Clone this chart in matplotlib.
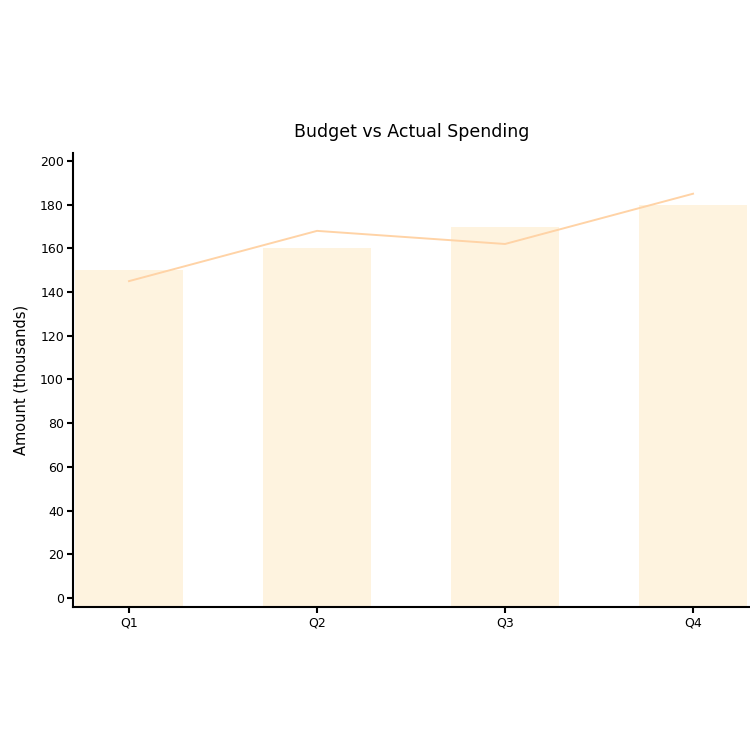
import matplotlib
matplotlib.use('Agg')
import matplotlib.pyplot as plt

quarters = ['Q1', 'Q2', 'Q3', 'Q4']
budget = [150, 160, 170, 180]
actual = [145, 168, 162, 185]
yticks = [0, 20, 40, 60, 80, 100, 120, 140, 160, 180, 200]

plt.rcParams['font.family'] = ['DejaVu Sans']

fig = plt.figure(figsize=(7.5, 7.5), dpi=100)
ax = fig.add_axes([0.0973, 0.1907, 0.9027, 0.6049])

ymin, ymax = -4.12, 203.5
x = range(len(quarters))
ax.bar(x, [b - ymin for b in budget], bottom=ymin, width=0.57,
       color='#fef3df', zorder=1)
ax.plot(x, actual, color='#ffd3a6', linewidth=1.4, zorder=2)

ax.set_xlim(-0.298, 3.303)
ax.set_ylim(ymin, ymax)
ax.set_xticks(list(x))
ax.set_xticklabels(quarters)
ax.set_yticks(yticks)

for s in ['top', 'right']:
    ax.spines[s].set_visible(False)
for s in ['left', 'bottom']:
    ax.spines[s].set_linewidth(1.5)
ax.tick_params(direction='out', length=4.5, width=1.5, labelsize=9, pad=2)

ax.set_title('Budget vs Actual Spending', fontsize=12.5, pad=12)
ax.set_ylabel('Amount (thousands)', fontsize=10.5, labelpad=8)

fig.savefig('out.png', dpi=100)
